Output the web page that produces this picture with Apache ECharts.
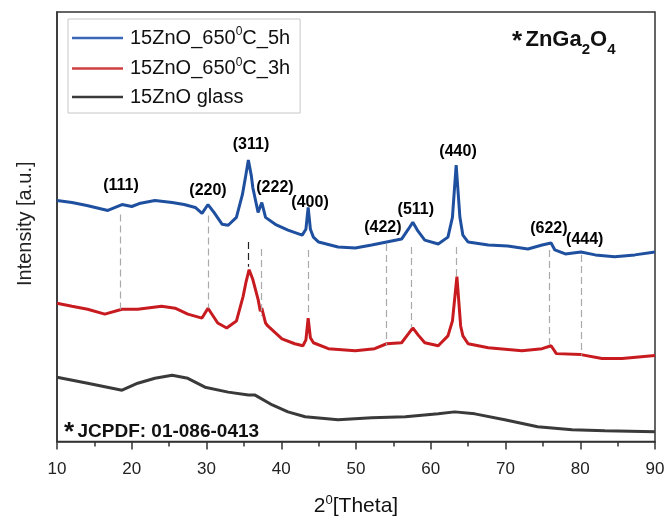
<!DOCTYPE html>
<html lang="en">
<head>
<meta charset="UTF-8" />
<title>XRD ZnGa2O4</title>
<script src="https://cdn.jsdelivr.net/npm/echarts@6/dist/echarts.min.js"></script>
<style>
  html, body { margin: 0; padding: 0; background: #fff; }
  #main { width: 668px; height: 522px; }
</style>
</head>
<body>
<div id="main"></div>
<script type="text/javascript">
// 2theta / intensity (a.u.)
var blue5h = [
  [10, 257], [12, 255], [14, 252], [16.8, 247], [18.7, 253], [20, 251], [21, 254], [23.1, 257],
  [25.4, 255], [27, 253], [28.5, 250], [29.4, 244], [30.2, 253], [31, 245], [32.1, 233],
  [32.9, 232], [34, 240], [34.8, 263], [35.2, 280], [35.6, 298], [36.0, 282], [36.2, 270],
  [36.9, 245], [37.4, 255], [37.9, 240], [39.2, 233], [40.9, 227], [42.8, 222], [43.3, 228],
  [43.6, 250], [43.9, 228], [44.3, 220], [45, 215], [47.6, 210], [49.9, 209], [52.1, 212],
  [54.1, 215], [56.1, 218], [57.0, 228], [57.6, 235], [58.3, 226], [59.2, 217], [61, 213],
  [62.3, 220], [62.9, 240], [63.4, 293], [63.9, 240], [64.3, 222], [65, 215], [67.7, 212],
  [70.3, 211], [73, 208], [74.9, 212], [76.1, 214], [76.6, 207], [78, 203], [80.1, 205],
  [82, 202], [84.6, 200], [87.3, 202], [90, 205]
];
var red3h = [
  [10, 153], [12, 150], [14.1, 147], [16.4, 142], [18.7, 147], [20.8, 147], [24, 150],
  [25.8, 148], [27.5, 142], [29.4, 138], [30.2, 148], [31.5, 133], [32.7, 128], [34, 135],
  [34.9, 160], [35.3, 175], [35.7, 187], [36.2, 177], [36.9, 157], [37.2, 145], [37.4, 148],
  [37.9, 133], [38.2, 130], [40.1, 117], [41.8, 112], [42.9, 110], [43.3, 116], [43.6, 138],
  [43.9, 118], [44.3, 113], [46.3, 107], [49.9, 105], [52.5, 107], [54.1, 112], [56.1, 113],
  [57.0, 122], [57.6, 128], [58.3, 121], [59.2, 113], [61, 110], [62.3, 120], [62.9, 135],
  [63.5, 180], [64.0, 130], [64.3, 120], [65, 112], [67.7, 108], [72.2, 105], [74.9, 107],
  [76.1, 110], [76.8, 102], [80.1, 101], [82.9, 97], [85.6, 97], [90, 100]
];
var glass = [
  [10, 78], [14.1, 72], [18.7, 65], [20.8, 72], [23.1, 77], [25.4, 80], [27.5, 77],
  [29.8, 68], [32.9, 63], [35.6, 60], [36.5, 60], [38.8, 50], [40.9, 43], [43.2, 38],
  [47.6, 35], [52.1, 37], [56.6, 38], [61, 41], [63.2, 43], [65.9, 41], [69.9, 35],
  [74.3, 28], [78.9, 25], [83.3, 24], [90, 23]
];

// (hkl) reflections: position, label place, dashed line from / to
var hklNames = ["(111)", "(220)", "(311)", "(222)", "(400)", "(422)", "(511)", "(440)", "(622)", "(444)"];
var hklPos = [18.4, 30.2, 35.6, 37.3, 43.6, 54.1, 57.4, 63.4, 75.9, 80.1];
var labelX = [18.56, 30.2, 35.95, 39.16, 43.85, 53.6, 58.0, 63.65, 75.8, 80.6];
var labelY = [272, 267, 314, 270, 255, 230, 248, 307, 229, 217];
var lineTop = [243, 242, 215, 208, 207, 213, 210, 210, 207, 202];
var lineBottom = [143, 148, 190, 140, 140, 110, 128, 180, 110, 100];

var xTicks = [10, 20, 30, 40, 50, 60, 70, 80, 90];

var legendRich = {
  "15ZnO_650C_5h": "{a|15ZnO_650}{s|0}{a|C_5h}",
  "15ZnO_650C_3h": "{a|15ZnO_650}{s|0}{a|C_3h}",
  "15ZnO glass": "{a|15ZnO glass}"
};

var FONT = "Liberation Sans, Arial, sans-serif";

var myChart = echarts.init(document.getElementById("main"));

var labelData = hklNames.map(function (n, i) {
  return { name: n, value: [labelX[i], labelY[i]] };
});
var dashData = hklNames.map(function (n, i) {
  var dark = n === "(311)";
  return [
    { coord: [hklPos[i], lineTop[i]], lineStyle: { color: dark ? "#222" : "#aaa" } },
    { coord: [hklPos[i], lineBottom[i]] }
  ];
});

var option = {
  animation: false,
  textStyle: { fontFamily: FONT },
  grid: {
    left: 57, right: 13, top: 12, bottom: 75,
    show: true, borderColor: "#333", borderWidth: 1.5
  },
  legend: {
    data: ["15ZnO_650C_5h", "15ZnO_650C_3h", "15ZnO glass"],
    orient: "vertical",
    left: 68, top: 19,
    padding: [7, 10, 6, 4],
    itemGap: 8.5,
    itemWidth: 51,
    itemHeight: 2.5,
    icon: "rect",
    borderColor: "#c8c8c8",
    borderWidth: 1,
    formatter: function (name) { return legendRich[name]; },
    textStyle: {
      fontFamily: FONT, fontSize: 20, color: "#111", padding: [0, 0, 0, 2],
      rich: {
        a: { fontFamily: FONT, fontSize: 20, color: "#111", lineHeight: 24 },
        s: { fontFamily: FONT, fontSize: 12, color: "#111", verticalAlign: "top", lineHeight: 12 }
      }
    }
  },
  xAxis: [
    {
      type: "value",
      position: "bottom",
      min: 10, max: 90, interval: 10,
      name: "{a|2}{s|0}{a|[Theta]}",
      nameLocation: "middle",
      nameGap: 52,
      nameTextStyle: {
        rich: {
          a: { fontFamily: FONT, fontSize: 21, color: "#111", lineHeight: 26 },
          s: { fontFamily: FONT, fontSize: 13, color: "#111", verticalAlign: "top", lineHeight: 13 }
        }
      },
      axisLine: { show: true, onZero: false, lineStyle: { color: "#333", width: 1.5 } },
      axisTick: { show: true, length: 8, lineStyle: { color: "#333", width: 1.5 } },
      splitLine: { show: false },
      axisLabel: {
        margin: 19, fontSize: 17, color: "#222", fontFamily: FONT,
        formatter: function (v) { return xTicks.indexOf(v) >= 0 ? String(v) : ""; }
      }
    },
    {
      // minor ticks every 5 degrees
      type: "value",
      position: "bottom",
      offset: 0,
      min: 10, max: 90, interval: 5,
      axisLine: { show: false, onZero: false },
      axisTick: { show: true, length: 5, lineStyle: { color: "#333", width: 1.5 } },
      axisLabel: { show: false },
      splitLine: { show: false }
    }
  ],
  yAxis: {
    type: "value",
    min: 13, max: 448,
    name: "Intensity [a.u.]",
    nameLocation: "middle",
    nameGap: 22,
    nameTextStyle: { fontFamily: FONT, fontSize: 20, color: "#222", padding: [0, 0, 0, 6] },
    axisLine: { show: true, lineStyle: { color: "#333", width: 1.5 } },
    axisTick: { show: false },
    axisLabel: { show: false },
    splitLine: { show: false }
  },
  graphic: [
    {
      type: "text", left: 512, top: 29,
      style: {
        text: "{st|*} {b|ZnGa}{sub|2}{b|O}{sub|4}",
        rich: {
          st: { fontFamily: FONT, fontSize: 26, fontWeight: "bold", fill: "#111", verticalAlign: "top", lineHeight: 26, padding: [0, 0, 6, 0] },
          b: { fontFamily: FONT, fontSize: 22, fontWeight: "bold", fill: "#111", lineHeight: 28, verticalAlign: "top" },
          sub: { fontFamily: FONT, fontSize: 15, fontWeight: "bold", fill: "#111", verticalAlign: "top", lineHeight: 16, padding: [13, 0, 0, 0] }
        }
      }
    },
    {
      type: "text", left: 64, top: 420,
      style: {
        text: "{st|*} {b|JCPDF: 01-086-0413}",
        rich: {
          st: { fontFamily: FONT, fontSize: 26, fontWeight: "bold", fill: "#111", verticalAlign: "top", lineHeight: 24 },
          b: { fontFamily: FONT, fontSize: 19, fontWeight: "bold", fill: "#111", lineHeight: 24 }
        }
      }
    }
  ],
  series: [
    {
      name: "15ZnO glass", type: "line", data: glass,
      showSymbol: false, symbol: "none",
      lineStyle: { color: "#3a3a3a", width: 3 }, itemStyle: { color: "#3a3a3a" }
    },
    {
      name: "15ZnO_650C_3h", type: "line", data: red3h,
      showSymbol: false, symbol: "none",
      lineStyle: { color: "#c81b20", width: 3 }, itemStyle: { color: "#d04040" }
    },
    {
      name: "15ZnO_650C_5h", type: "line", data: blue5h,
      showSymbol: false, symbol: "none",
      lineStyle: { color: "#1f50a0", width: 3 }, itemStyle: { color: "#3a68b8" }
    },
    {
      name: "hkl", type: "scatter", data: labelData,
      symbolSize: 0.1,
      itemStyle: { color: "#000", opacity: 1 },
      silent: true,
      label: {
        show: true, position: "inside",
        formatter: "{b}",
        fontFamily: FONT, fontSize: 16, fontWeight: "bold", color: "#000",
        opacity: 1, textBorderWidth: 0
      },
      markLine: {
        silent: true,
        symbol: "none",
        label: { show: false },
        lineStyle: { type: [7, 4], width: 1.2, color: "#aaa" },
        data: dashData
      },
      z: 1
    }
  ]
};

myChart.setOption(option);
</script>
</body>
</html>
